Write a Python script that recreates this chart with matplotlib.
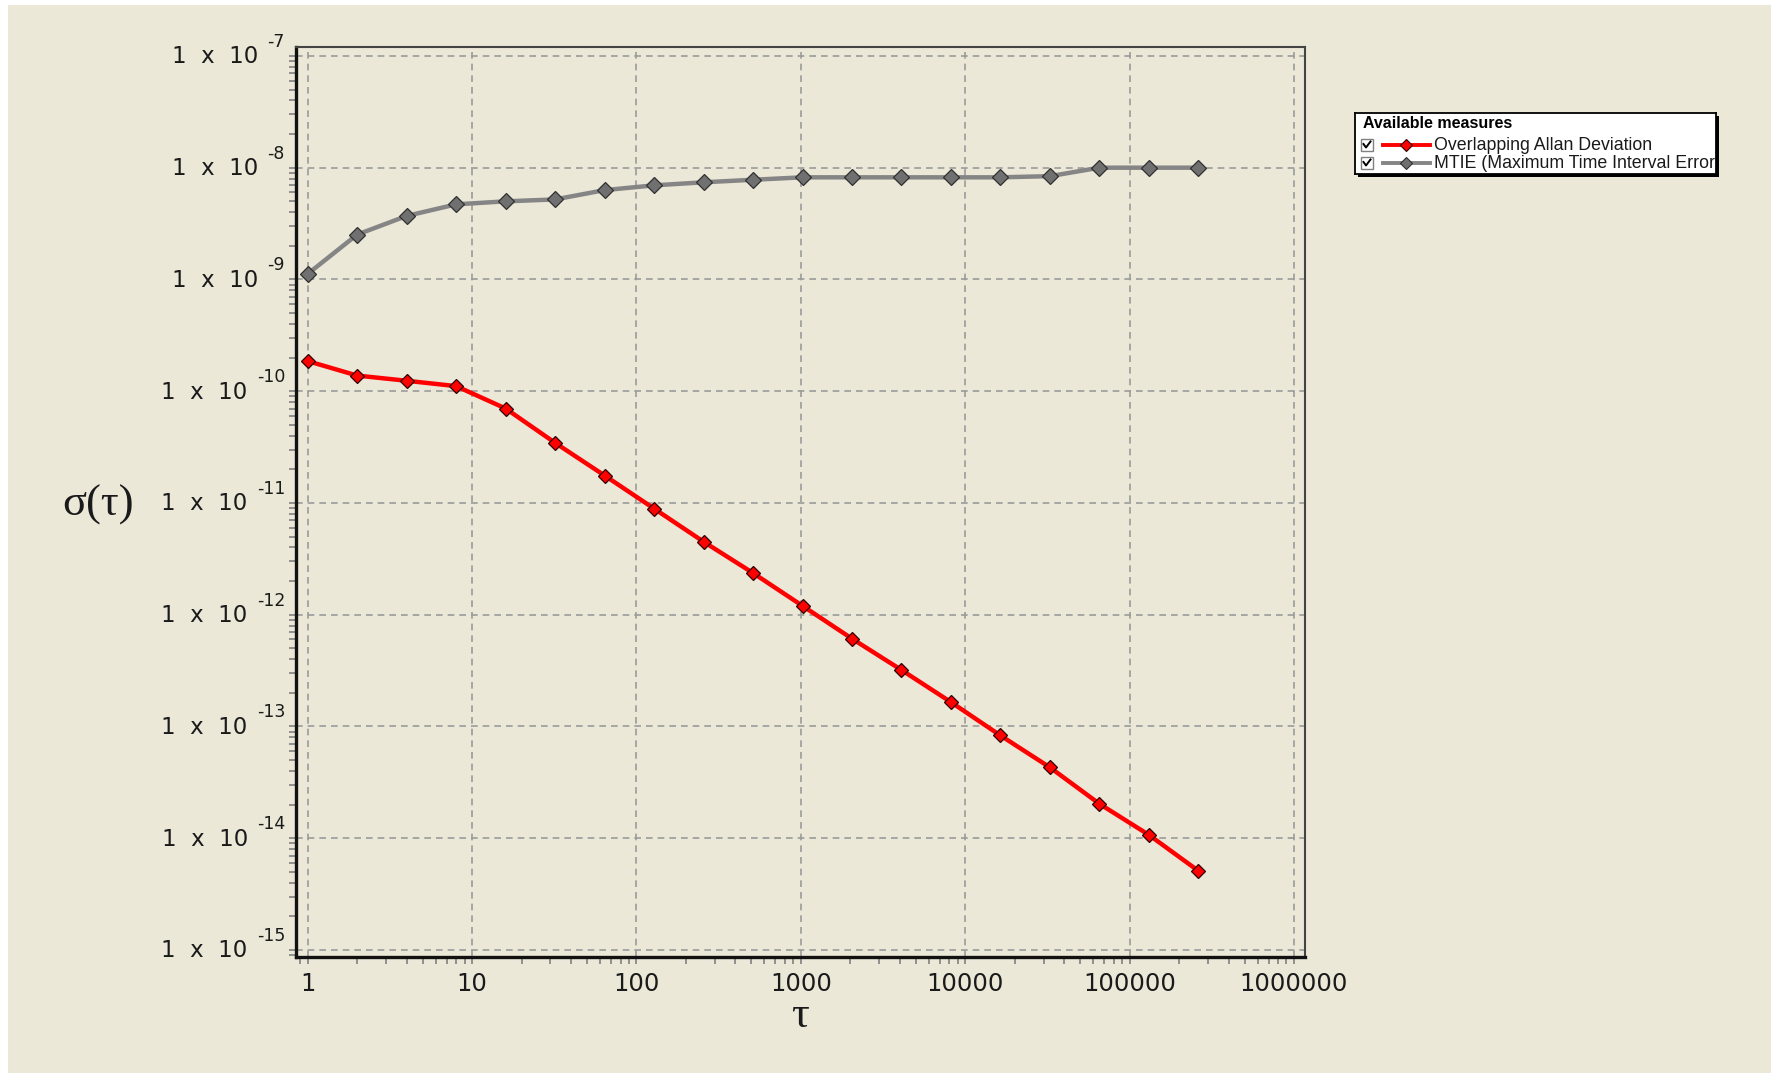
import matplotlib.pyplot as plt
from matplotlib.patches import Rectangle
from matplotlib.ticker import FixedLocator, NullFormatter, LogLocator
from matplotlib.transforms import blended_transform_factory, offset_copy


# tau values (seconds) and the two measures
tau = [1, 2, 4, 8, 16, 32, 64, 128, 256, 512, 1024, 2048, 4096, 8192,
       16384, 32768, 65536, 131072, 262144]
adev = [1.86e-10, 1.38e-10, 1.24e-10, 1.11e-10, 7.0e-11, 3.45e-11, 1.76e-11,
        8.9e-12, 4.5e-12, 2.36e-12, 1.2e-12, 6.1e-13, 3.2e-13, 1.65e-13,
        8.3e-14, 4.3e-14, 2.03e-14, 1.07e-14, 5.1e-15]
mtie = [1.12e-9, 2.52e-9, 3.7e-9, 4.7e-9, 5.0e-9, 5.2e-9, 6.3e-9, 6.95e-9,
        7.4e-9, 7.8e-9, 8.2e-9, 8.2e-9, 8.2e-9, 8.2e-9, 8.2e-9, 8.4e-9,
        1.0e-8, 1.0e-8, 1.0e-8]

x_ticks = [1, 10, 100, 1000, 10000, 100000, 1000000]
x_tick_labels = ["1", "10", "100", "1000", "10000", "100000", "1000000"]
y_exponents = [-15, -14, -13, -12, -11, -10, -9, -8, -7]

legend_title = "Available measures"
series_names = ["Overlapping Allan Deviation", "MTIE (Maximum Time Interval Error)"]

BG = "#ebe8d8"
RED = "#ff0000"
GREY = "#858585"
TXT = "#1a1a1a"
SERIF = ["Liberation Serif", "DejaVu Serif"]
WIDE = ["DejaVu Sans"]

plt.rcParams["font.family"] = ["Liberation Sans", "DejaVu Sans"]

W, H = 1771, 1073
fig = plt.figure(figsize=(W / 100, H / 100), dpi=100, facecolor="white")
# beige panel with a thin light border at top/left
fig.patches.append(Rectangle((8 / W, 0), 1, 1 - 5 / H, transform=fig.transFigure,
                             facecolor=BG, edgecolor="none", zorder=-10))

ax = fig.add_axes([296 / W, 1 - 957 / H, 1009 / W, 910 / H])
ax.set_facecolor(BG)
ax.set_xscale("log")
ax.set_yscale("log")
ax.set_xlim(10 ** -0.071, 10 ** 6.067)
ax.set_ylim(10 ** -15.063, 10 ** -6.92)

ax.plot(tau, mtie, color=GREY, lw=3.2, marker="D", ms=8, mfc="#707070",
        mec="#303030", mew=0.9, zorder=3)
ax.plot(tau, adev, color=RED, lw=3.2, marker="D", ms=7.5, mfc=RED,
        mec="#300000", mew=0.9, zorder=4)

# grid
ax.xaxis.set_major_locator(FixedLocator(x_ticks))
ax.xaxis.set_minor_locator(LogLocator(base=10, subs=range(2, 10), numticks=20))
ax.xaxis.set_minor_formatter(NullFormatter())
ax.set_xticklabels(x_tick_labels, family=WIDE)
ax.yaxis.set_major_locator(FixedLocator([10.0 ** e for e in y_exponents]))
ax.yaxis.set_minor_locator(LogLocator(base=10, subs=range(2, 10), numticks=20))
ax.yaxis.set_minor_formatter(NullFormatter())
ax.set_yticklabels([])
ax.grid(True, which="major", color="#9a9a9a", lw=1.2, ls=(0, (4, 3)))
ax.set_axisbelow(True)

ax.tick_params(which="both", direction="out", length=5, width=1.2, color="#808080")
ax.tick_params(axis="x", labelsize=17.5, labelcolor=TXT, pad=6)

for side in ("left", "bottom"):
    ax.spines[side].set_linewidth(2.4)
    ax.spines[side].set_color("#111111")
for side in ("top", "right"):
    ax.spines[side].set_linewidth(1.5)
    ax.spines[side].set_color("#444444")

# y tick labels in the "1 x 10^-n" style
trans = blended_transform_factory(ax.transAxes, ax.transData)
for e in y_exponents:
    exp_t = ax.text(0, 10.0 ** e, f"{e}", fontsize=12.5, color=TXT, ha="right",
                    va="bottom", family=WIDE,
                    transform=offset_copy(trans, fig=fig, x=-11, y=5, units="dots"))
    ax.annotate("1  x  10", xy=(0, 0), xycoords=exp_t, xytext=(-9, -6),
                textcoords="offset pixels", ha="right", va="center",
                fontsize=16.5, color=TXT, family=WIDE)

fig.text(98 / W, 1 - 505 / H, "σ(τ)", fontsize=32, family=SERIF,
         ha="center", va="center", color=TXT)
fig.text(800 / W, 1 - 1016 / H, "τ", fontsize=32, family=SERIF,
         ha="center", va="center", color=TXT)

# legend panel
lx, ly, lw_, lh = 1355, 113, 361, 61
fig.patches.append(Rectangle(((lx + 3) / W, 1 - (ly + lh + 3) / H), lw_ / W, lh / H,
                             transform=fig.transFigure, facecolor="black",
                             edgecolor="none", zorder=5))
lax = fig.add_axes([lx / W, 1 - (ly + lh) / H, lw_ / W, lh / H], zorder=6)
lax.set_xlim(0, lw_)
lax.set_ylim(lh, 0)
lax.set_xticks([])
lax.set_yticks([])
lax.set_facecolor("white")
for sp in lax.spines.values():
    sp.set_linewidth(1.3)
    sp.set_color("black")
lax.text(8, 11, legend_title, fontsize=11.5, weight="bold", va="center", ha="left")
styles = [(RED, RED, "#300000"), (GREY, "#707070", "#303030")]
for i, (name, (lc, fc, ec)) in enumerate(zip(series_names, styles)):
    yc = 32 + 18 * i
    lax.add_patch(Rectangle((6, yc - 6), 12, 12, facecolor="white", edgecolor="#808080", lw=1))
    lax.plot([8.5, 11, 15.5], [yc - 1, yc + 2.5, yc - 3.5], color="black", lw=1.4)
    lax.plot([28, 75], [yc, yc], color=lc, lw=2.8)
    lax.plot([51], [yc], marker="D", ms=6.5, mfc=fc, mec=ec, mew=0.8)
    lax.text(79, yc, name, fontsize=12.8, va="center", ha="left", color=TXT, clip_on=True)

fig.savefig("out.png", dpi=100, facecolor=fig.get_facecolor())
